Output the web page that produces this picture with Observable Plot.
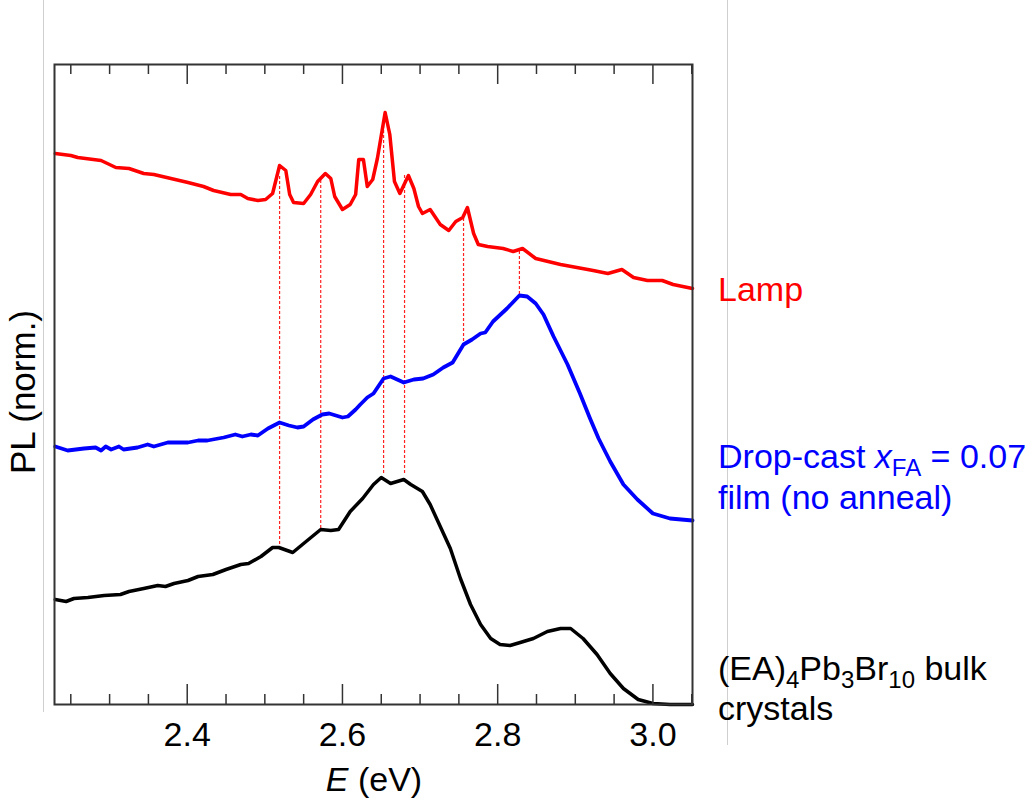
<!DOCTYPE html>
<html>
<head>
<meta charset="utf-8">
<script src="https://cdn.jsdelivr.net/npm/d3@7"></script>
<script src="https://cdn.jsdelivr.net/npm/@observablehq/plot@0.6"></script>
<style>
  body { margin: 0; background: #fff; }
  svg { display: block; }
</style>
</head>
<body>
<div id="chart"></div>
<script>
// ---- Data ----
// Lamp spectrum (red), offset normalized PL
const lampE  = [2.230,2.250,2.259,2.289,2.308,2.325,2.344,2.357,2.401,2.421,2.434,2.456,2.469,2.478,2.491,2.501,2.510,2.519,2.527,2.532,2.537,2.550,2.559,2.568,2.578,2.585,2.590,2.600,2.610,2.617,2.621,2.627,2.632,2.639,2.645,2.655,2.661,2.667,2.674,2.685,2.692,2.698,2.703,2.713,2.726,2.737,2.746,2.755,2.761,2.769,2.775,2.787,2.807,2.820,2.832,2.849,2.881,2.923,2.942,2.960,2.975,2.993,3.012,3.026,3.051];
const lampPL = [5.51,5.49,5.47,5.44,5.37,5.36,5.31,5.30,5.22,5.18,5.14,5.10,5.10,5.06,5.04,5.05,5.11,5.39,5.34,5.10,5.02,5.01,5.10,5.23,5.31,5.26,5.08,4.95,5.00,5.10,5.45,5.45,5.18,5.25,5.46,5.92,5.70,5.23,5.11,5.29,5.16,4.98,4.91,4.95,4.80,4.74,4.83,4.87,4.97,4.71,4.60,4.58,4.56,4.53,4.56,4.46,4.40,4.34,4.31,4.35,4.27,4.24,4.24,4.20,4.16];

// Drop-cast x_FA = 0.07 film (blue)
const filmE  = [2.230,2.246,2.267,2.282,2.289,2.295,2.302,2.312,2.318,2.336,2.349,2.357,2.375,2.401,2.414,2.426,2.447,2.462,2.471,2.482,2.491,2.504,2.519,2.531,2.542,2.550,2.562,2.574,2.583,2.600,2.607,2.617,2.623,2.632,2.640,2.653,2.662,2.679,2.692,2.704,2.717,2.730,2.742,2.756,2.767,2.778,2.784,2.794,2.812,2.828,2.838,2.849,2.859,2.872,2.890,2.906,2.919,2.930,2.945,2.962,2.980,3.000,3.022,3.051];
const filmPL = [2.58,2.54,2.56,2.57,2.54,2.58,2.55,2.58,2.55,2.57,2.60,2.58,2.62,2.62,2.64,2.64,2.67,2.70,2.68,2.70,2.69,2.76,2.82,2.79,2.77,2.78,2.85,2.90,2.91,2.87,2.88,2.95,3.00,3.07,3.11,3.26,3.28,3.22,3.25,3.26,3.30,3.37,3.42,3.60,3.65,3.71,3.72,3.83,3.96,4.09,4.08,4.01,3.90,3.68,3.40,3.11,2.86,2.66,2.43,2.20,2.05,1.91,1.86,1.84];

// (EA)4Pb3Br10 bulk crystals (black)
const bulkE  = [2.230,2.244,2.254,2.272,2.293,2.314,2.325,2.344,2.362,2.372,2.383,2.401,2.414,2.433,2.450,2.469,2.479,2.495,2.510,2.518,2.536,2.550,2.572,2.585,2.595,2.610,2.626,2.640,2.650,2.662,2.679,2.688,2.703,2.713,2.726,2.739,2.752,2.765,2.778,2.791,2.803,2.816,2.829,2.846,2.864,2.881,2.894,2.910,2.928,2.945,2.962,2.981,3.000,3.022,3.051];
const bulkPL = [1.05,1.03,1.06,1.07,1.09,1.10,1.13,1.16,1.19,1.18,1.21,1.24,1.28,1.30,1.35,1.40,1.41,1.48,1.57,1.57,1.52,1.61,1.75,1.74,1.75,1.93,2.06,2.20,2.27,2.21,2.25,2.20,2.13,2.00,1.78,1.56,1.26,1.00,0.80,0.66,0.60,0.59,0.62,0.66,0.73,0.76,0.76,0.66,0.50,0.31,0.16,0.05,0.01,0.00,0.00];

// Red dashed guide lines at lamp peaks
const guideE      = [2.519, 2.572, 2.653, 2.680, 2.756, 2.828];
const guideTopPL  = [5.30, 5.25, 5.90, 5.30, 4.90, 4.53];
const guideBotPL  = [1.60, 1.76, 2.31, 2.31, 3.63, 4.10];

// Axis ticks
const majorTicks = [2.4, 2.6, 2.8, 3.0];
const minorTicks = [2.25, 2.30, 2.35, 2.45, 2.50, 2.55, 2.65, 2.70, 2.75, 2.85, 2.90, 2.95, 3.05];

// Series labels (right side)
const seriesLabels = [
  {color: "#ff0000", parts: [["Lamp"]]},
  {color: "#0000ff", parts: [["Drop-cast "], ["x", "i"], ["FA", "sub"], [" = 0.07"]]},
  {color: "#0000ff", parts: [["film (no anneal)"]]},
  {color: "#000000", parts: [["(EA)"], ["4", "sub"], ["Pb"], ["3", "sub"], ["Br"], ["10", "sub"], [" bulk"]]},
  {color: "#000000", parts: [["crystals"]]}
];
const labelBaselines = [301, 468, 509, 680, 720];

// ---- Build tables ----
const toRows = (E, PL) => E.map((e, i) => ({E: e, PL: PL[i]}));
const lamp = toRows(lampE, lampPL);
const film = toRows(filmE, filmPL);
const bulk = toRows(bulkE, bulkPL);
const guides = guideE.map((e, i) => ({E: e, top: guideTopPL[i], bot: guideBotPL[i]}));

const FONT = "'Liberation Sans', Arial, Helvetica, sans-serif";
const AX = "#333333";
const innerH = 800 - 64 - 96;

const plot = Plot.plot({
  width: 1032,
  height: 800,
  marginLeft: 54,
  marginRight: 340,
  marginTop: 64,
  marginBottom: 96,
  style: {fontFamily: FONT, background: "#ffffff", color: "#000"},
  x: {domain: [2.229, 3.051]},
  y: {domain: [0, 6.40], axis: null},
  marks: [
    Plot.ruleX(guides, {x: "E", y1: "bot", y2: "top", stroke: "#ff2020", strokeWidth: 1.2, strokeDasharray: "3,2"}),
    Plot.line(lamp, {x: "E", y: "PL", stroke: "#ff0000", strokeWidth: 3.5, strokeLinejoin: "round"}),
    Plot.line(film, {x: "E", y: "PL", stroke: "#0000ff", strokeWidth: 3.8, strokeLinejoin: "round"}),
    Plot.line(bulk, {x: "E", y: "PL", stroke: "#000000", strokeWidth: 3.5, strokeLinejoin: "round"}),
    // inward ticks, bottom
    Plot.ruleX(majorTicks, {x: d => d, insetTop: innerH - 20, stroke: AX, strokeWidth: 1.5}),
    Plot.ruleX(minorTicks, {x: d => d, insetTop: innerH - 10, stroke: AX, strokeWidth: 1.5}),
    // inward ticks, top
    Plot.ruleX(majorTicks, {x: d => d, insetBottom: innerH - 20, stroke: AX, strokeWidth: 1.5}),
    Plot.ruleX(minorTicks, {x: d => d, insetBottom: innerH - 10, stroke: AX, strokeWidth: 1.5}),
    Plot.axisX({ticks: majorTicks, tickSize: 0, tickPadding: 17, tickFormat: d3.format(".1f"), fontSize: 34, label: null, fill: "#000"}),
    Plot.frame({stroke: AX, strokeWidth: 2})
  ]
});

document.getElementById("chart").appendChild(plot);

const svg = d3.select(plot);

// faint slide guide lines (decorative, from the original figure)
svg.insert("line", ":first-child").attr("x1", 43.5).attr("x2", 43.5).attr("y1", 0).attr("y2", 712)
  .attr("stroke", "#cfcfcf").attr("stroke-width", 1);
svg.insert("line", ":first-child").attr("x1", 727.5).attr("x2", 727.5).attr("y1", 0).attr("y2", 745)
  .attr("stroke", "#cfcfcf").attr("stroke-width", 1);

// axis titles
const xt = svg.append("text").attr("x", 374).attr("y", 791).attr("text-anchor", "middle")
  .attr("font-family", FONT).attr("font-size", 34).attr("fill", "#000");
xt.append("tspan").attr("font-style", "italic").text("E");
xt.append("tspan").text(" (eV)");

svg.append("text").attr("transform", "translate(35,392) rotate(-90)").attr("text-anchor", "middle")
  .attr("font-family", FONT).attr("font-size", 35).attr("fill", "#000").text("PL (norm.)");

// series labels
seriesLabels.forEach((lab, i) => {
  const t = svg.append("text").attr("x", 718).attr("y", labelBaselines[i])
    .attr("text-anchor", "start")
    .attr("font-family", FONT).attr("font-size", 34).attr("fill", lab.color);
  let shifted = 0;
  lab.parts.forEach(([s, kind]) => {
    const ts = t.append("tspan").text(s);
    if (kind === "sub") {
      ts.attr("font-size", 24).attr("dy", 8 - shifted);
      shifted = 8;
    } else {
      if (shifted) ts.attr("dy", -shifted);
      shifted = 0;
      if (kind === "i") ts.attr("font-style", "italic");
    }
  });
});
</script>
</body>
</html>
